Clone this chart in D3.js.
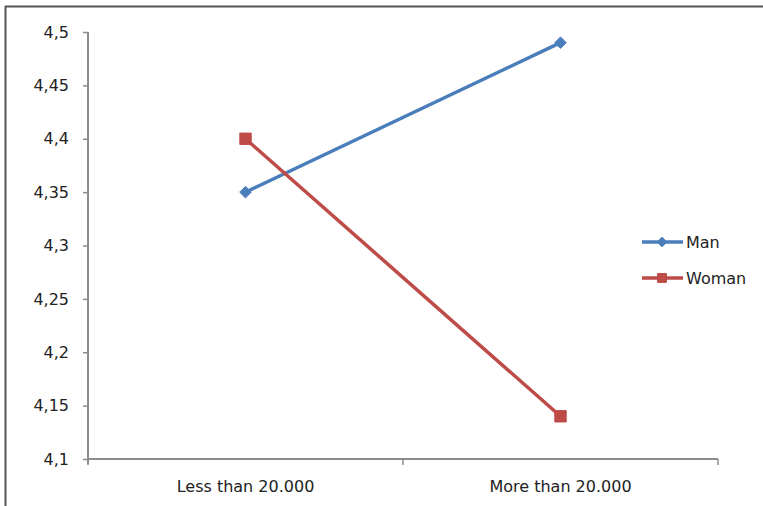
<!DOCTYPE html>
<html>
<head>
<meta charset="utf-8">
<script src="https://cdn.jsdelivr.net/npm/d3@7/dist/d3.min.js"></script>
<style>
  html, body { margin: 0; padding: 0; background: #fff; }
  svg { display: block; }
  text { font-family: "DejaVu Sans", Verdana, sans-serif; fill: #222; }
</style>
</head>
<body>
<svg id="chart" width="763" height="506"></svg>
<script>
// Income groups on the x axis
const categories = ["Less than 20.000", "More than 20.000"];
// Mean score per group
const manValues = [4.35, 4.49];
const womanValues = [4.40, 4.14];
const seriesNames = ["Man", "Woman"];
const yTicks = [4.1, 4.15, 4.2, 4.25, 4.3, 4.35, 4.4, 4.45, 4.5];

const series = [
  { name: seriesNames[0], values: manValues, color: "#4a7ebb", marker: "diamond" },
  { name: seriesNames[1], values: womanValues, color: "#be4b48", marker: "square" }
];

const svg = d3.select("#chart");
const W = 763, H = 506;
const plot = { left: 88, right: 718, top: 32, bottom: 459 };

// Frame around the chart area (top and left edges visible)
svg.append("line").attr("x1", 5).attr("x2", W).attr("y1", 6.5).attr("y2", 6.5)
  .attr("stroke", "#555").attr("stroke-width", 2);
svg.append("line").attr("x1", 5.5).attr("x2", 5.5).attr("y1", 6).attr("y2", H)
  .attr("stroke", "#555").attr("stroke-width", 2);

const x = d3.scaleBand().domain(categories).range([plot.left, plot.right]).padding(0);
const y = d3.scaleLinear().domain([4.1, 4.5]).range([plot.bottom, plot.top]);
const fmt = v => d3.format(".3~f")(v).replace(".", ",");

// Y axis
const yAxis = svg.append("g").attr("transform", `translate(${plot.left},0)`)
  .call(d3.axisLeft(y).tickValues(yTicks).tickFormat(fmt).tickSize(5).tickPadding(14));
yAxis.select(".domain").attr("stroke", "#8c8c8c").attr("stroke-width", 2)
  .attr("d", `M0,${plot.top}V${plot.bottom + 5}`);
yAxis.selectAll(".tick line").attr("stroke", "#8c8c8c").attr("stroke-width", 1.5);
yAxis.selectAll(".tick text").style("font-size", "16px").attr("fill", "#222");

// X axis with tick marks between categories
const xAxis = svg.append("g").attr("transform", `translate(0,${plot.bottom})`);
xAxis.append("line").attr("x1", plot.left).attr("x2", plot.right)
  .attr("stroke", "#8c8c8c").attr("stroke-width", 2);
const bounds = [plot.left, x(categories[1]), plot.right];
xAxis.selectAll("line.tk").data(bounds).join("line").attr("class", "tk")
  .attr("x1", d => d).attr("x2", d => d).attr("y1", 0).attr("y2", 6)
  .attr("stroke", "#8c8c8c").attr("stroke-width", 1.5);
xAxis.selectAll("text").data(categories).join("text")
  .attr("x", d => x(d) + x.bandwidth() / 2).attr("y", 33)
  .attr("text-anchor", "middle").style("font-size", "16px").text(d => d);

const cx = c => x(c) + x.bandwidth() / 2;
const line = d3.line().x((d, i) => cx(categories[i])).y(d => y(d));

const diamond = d3.symbol().type(d3.symbolDiamond2).size(85);
const square = d3.symbol().type(d3.symbolSquare2).size(165);

series.forEach(s => {
  svg.append("path").datum(s.values).attr("d", line)
    .attr("fill", "none").attr("stroke", s.color).attr("stroke-width", 3.5)
    .attr("stroke-linejoin", "round");
  svg.selectAll(null).data(s.values).join("path")
    .attr("transform", (d, i) => `translate(${cx(categories[i])},${y(d)})`)
    .attr("d", s.marker === "diamond" ? diamond : square)
    .attr("fill", s.color).attr("stroke", s.color).attr("stroke-width", 1);
});

// Legend
const legend = svg.append("g");
const legendY = [242, 278];
series.forEach((s, i) => {
  const g = legend.append("g").attr("transform", `translate(0,${legendY[i]})`);
  g.append("line").attr("x1", 642).attr("x2", 683).attr("stroke", s.color).attr("stroke-width", 3.5);
  g.append("path").attr("transform", "translate(662,0)")
    .attr("d", s.marker === "diamond" ? d3.symbol().type(d3.symbolDiamond2).size(60) : d3.symbol().type(d3.symbolSquare2).size(100))
    .attr("fill", s.color).attr("stroke", s.color);
  g.append("text").attr("x", 686).attr("y", 0).attr("dy", "0.35em")
    .style("font-size", "16px").text(s.name);
});
</script>
</body>
</html>
